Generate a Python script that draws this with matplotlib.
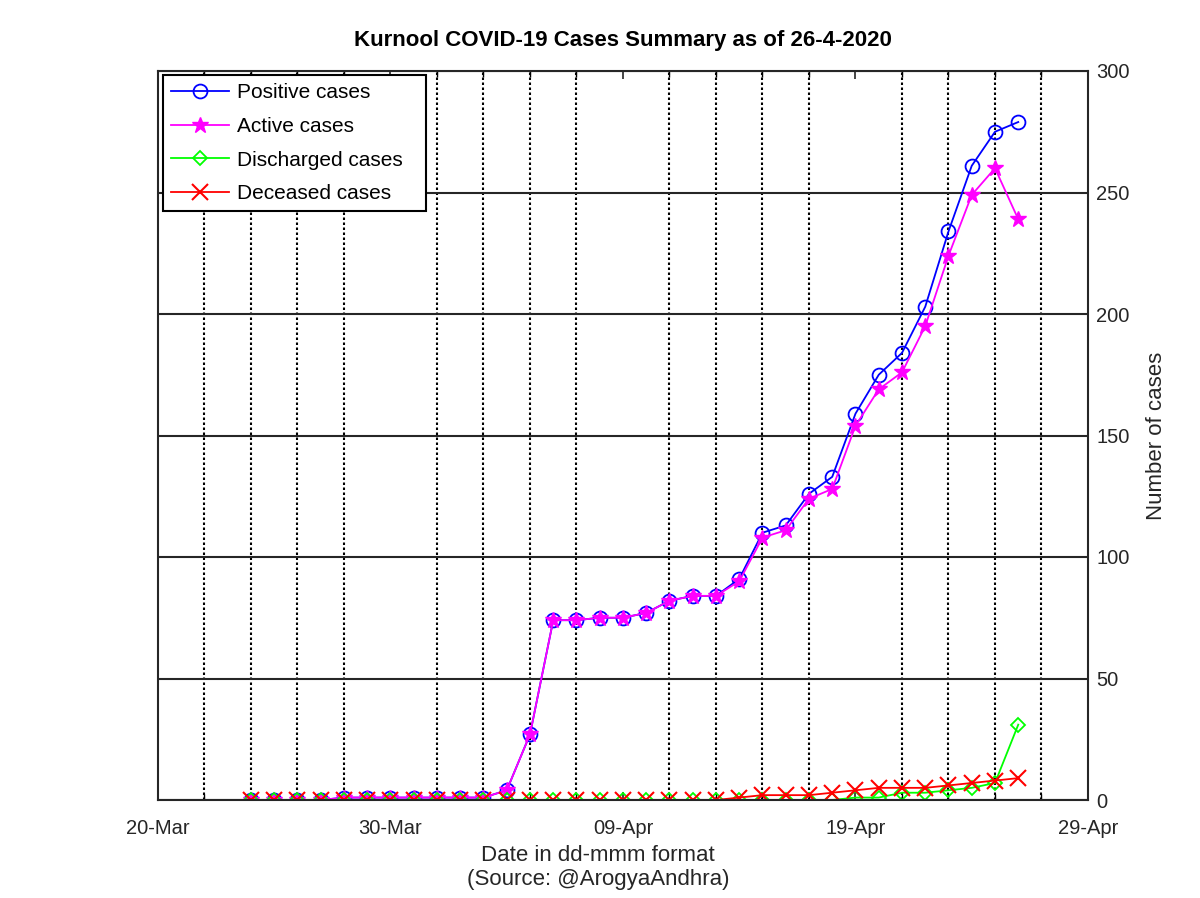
import datetime as dt
import matplotlib
matplotlib.use("Agg")
import matplotlib.pyplot as plt
import matplotlib.dates as mdates

plt.rcParams["font.family"] = ["Liberation Sans", "DejaVu Sans"]

start = dt.date(2020, 3, 24)
dates = [start + dt.timedelta(days=i) for i in range(34)]

positive = [0, 0, 0, 0, 1, 1, 1, 1, 1, 1, 1, 4, 27, 74, 74, 75, 75, 77, 82, 84, 84, 91,
            110, 113, 126, 133, 159, 175, 184, 203, 234, 261, 275, 279]
active = [0, 0, 0, 0, 1, 1, 1, 1, 1, 1, 1, 4, 27, 74, 74, 75, 75, 77, 82, 84, 84, 90,
          108, 111, 124, 128, 154, 169, 176, 195, 224, 249, 260, 239]
discharged = [0] * 25 + [0, 1, 1, 3, 3, 4, 5, 7, 31]
deceased = [0] * 21 + [1, 2, 2, 2, 3, 4, 5, 5, 5, 6, 7, 8, 9]

fig = plt.figure(figsize=(12, 8.98), dpi=100)
ax = fig.add_axes([158 / 1200, 1 - 800 / 898, (1088 - 158) / 1200, (800 - 71) / 898])

ax.plot(dates, positive, color="#0000ff", marker="o", ms=10, mfc="none", mew=1.3, lw=1.3,
        label="Positive cases")
ax.plot(dates, active, color="#ff00ff", marker="*", ms=12, lw=1.3, label="Active cases")
ax.plot(dates, discharged, color="#00ff00", marker="D", ms=7, mfc="none", mew=1.3, lw=1.3,
        label="Discharged cases")
ax.plot(dates, deceased, color="#ff0000", marker="x", ms=11, mew=1.5, lw=1.3,
        label="Deceased cases")

x0 = mdates.date2num(dt.date(2020, 3, 20))
ax.set_xlim(x0, mdates.date2num(dt.date(2020, 4, 29)))
ax.set_ylim(0, 300)
ax.set_xticks([x0 + 10 * k for k in range(5)])
ax.xaxis.set_major_formatter(mdates.DateFormatter("%d-%b"))
ax.set_xticks([x0 + 2 * k for k in range(21)], minor=True)
ax.set_yticks(range(0, 301, 50))

ax.yaxis.tick_right()
ax.yaxis.set_label_position("right")
ax.tick_params(direction="in", top=True, right=True, left=True, labelsize=14.5, length=6,
               width=1.2, colors="#262626")
ax.tick_params(axis="x", pad=14)
ax.tick_params(axis="y", pad=6, labelleft=False, labelright=True)
ax.tick_params(which="minor", direction="in", top=True, length=4, width=1.0)

ax.grid(True, which="minor", axis="x", color="black", ls=(0, (1.2, 1.2)), lw=1.5)
ax.grid(True, which="major", axis="y", color="#262626", ls="-", lw=1.5)
for s in ax.spines.values():
    s.set_color("#262626")
    s.set_linewidth(1.5)

ax.set_title("Kurnool COVID-19 Cases Summary as of 26-4-2020", fontsize=16, fontweight="bold",
             pad=18)
ax.set_xlabel("Date in dd-mmm format\n(Source: @ArogyaAndhra)", fontsize=16, color="#262626")
ax.xaxis.set_label_coords(0.473, -0.062, transform=ax.transAxes)
ax.xaxis.label.set_va("top")
ax.set_ylabel("Number of cases", fontsize=16, color="#262626", labelpad=12)

leg = ax.legend(loc="upper left", fontsize=15, handlelength=2.75, handletextpad=0.4,
                fancybox=False, edgecolor="black", framealpha=1, borderaxespad=0,
                labelspacing=0.7, mode="expand",
                bbox_to_anchor=(0.0054, 0.5, 0.2828, 0.4945))
leg.get_frame().set_linewidth(1.5)

fig.savefig("out.png", dpi=100)
